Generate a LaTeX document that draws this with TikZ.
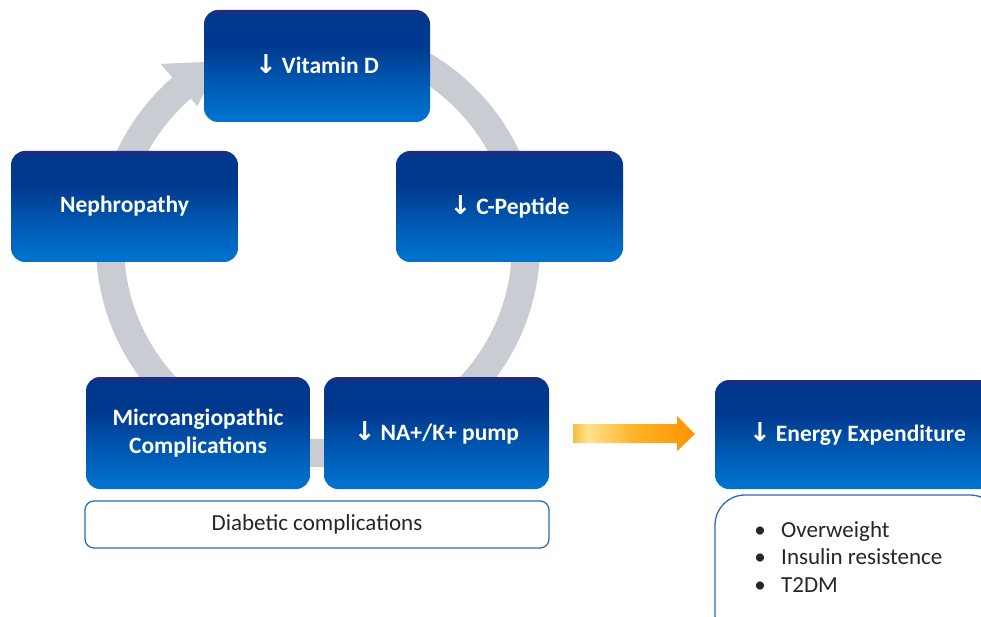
\documentclass[tikz,border=0pt]{standalone}
\usepackage{fontspec}
\setmainfont{Carlito}
\newfontfamily\arrowfont{DejaVu Sans}
\usetikzlibrary{calc}
\definecolor{ringgray}{RGB}{201,204,211}
\definecolor{boxnavy}{RGB}{36,44,124}
\definecolor{boxtop}{RGB}{0,56,142}
\definecolor{boxmid}{RGB}{0,84,172}
\definecolor{boxbot}{RGB}{0,114,206}
\definecolor{lineblue}{RGB}{46,106,182}
\definecolor{gold}{RGB}{246,190,62}
\definecolor{paley}{RGB}{255,226,140}
\definecolor{orngA}{RGB}{255,178,40}
\definecolor{orngB}{RGB}{255,146,0}
\pgfdeclareverticalshading{boxshade}{100bp}{color(0bp)=(boxbot); color(27bp)=(boxbot); color(45bp)=(boxmid); color(60bp)=(boxtop); color(72bp)=(boxtop); color(75bp)=(boxnavy); color(100bp)=(boxnavy)}
\pgfdeclarehorizontalshading{arrowshade}{100bp}{color(0bp)=(gold); color(25bp)=(gold); color(31bp)=(paley); color(50bp)=(orngA); color(75bp)=(orngB); color(100bp)=(orngB)}
\newcommand{\dnarr}{{\arrowfont\fontsize{26}{26}\selectfont ↓}\hspace{5pt}}
\tikzset{
  bluebox/.style={rounded corners=14pt, shading=boxshade, text=white, align=center,
    font=\fontsize{23.5}{28}\selectfont\bfseries, inner sep=0pt},
  outlinebox/.style={draw=lineblue, line width=1.3pt, fill=white, inner sep=0pt},
  bultext/.style={anchor=base west, font=\fontsize{23}{28}\selectfont, text=black!85, inner sep=0pt},
  buldot/.style={anchor=base, font=\fontsize{23}{28}\selectfont, text=black!85, inner sep=0pt}
}
\begin{document}
\begin{tikzpicture}[x=1pt,y=1pt]
\useasboundingbox (0,0) rectangle (981,-617);
\clip (0,0) rectangle (981,-617);
% cycle ring
\coordinate (ctr) at (318,-245);
\draw[ringgray, line width=28pt] ($(ctr)+(90:208pt)$) arc[start angle=90, end angle=-229, radius=208pt];
\fill[ringgray] ($(ctr)+(131:240pt)$) -- ($(ctr)+(118:208pt)$) -- ($(ctr)+(131:184pt)$) -- cycle;
% blue boxes
\node[bluebox, minimum width=226pt, minimum height=112pt] (vit) at (317,-66) {\raisebox{3pt}{\dnarr Vitamin D}};
\node[bluebox, minimum width=227pt, minimum height=111pt] (neph) at (124.5,-206.5) {Nephropathy};
\node[bluebox, minimum width=227pt, minimum height=111pt] (cpep) at (509.5,-206.5) {\dnarr C-Peptide};
\node[bluebox, minimum width=224pt, minimum height=112pt] (micro) at (198,-433) {Microangiopathic\\Complications};
\node[bluebox, minimum width=225pt, minimum height=112pt] (pump) at (436.5,-433) {\dnarr NA+/K+ pump};
\node[bluebox, minimum width=285pt, minimum height=109pt] (energy) at (857.5,-434.5) {\dnarr Energy Expenditure};
% outline boxes
\node[outlinebox, rounded corners=9pt, minimum width=464pt, minimum height=47pt,
  font=\fontsize{23}{28}\selectfont, text=black!85] (diab) at (317,-524.5) {Diabetic complications};
\node[outlinebox, rounded corners=30pt, minimum width=285pt, minimum height=150pt] (bulbox) at (857.5,-570) {};
\node[buldot] (d1) at (760,-537) {•};
\node[buldot] (d2) at (760,-564.5) {•};
\node[buldot] (d3) at (760,-592) {•};
\node[bultext] (b1) at (781,-537) {Overweight};
\node[bultext] (b2) at (781,-564.5) {Insulin resistence};
\node[bultext] (b3) at (781,-592) {T2DM};
% orange block arrow
\path[shading=arrowshade] ($(pump.east)+(24,9)$) -- ++(104,0) -- ++(0,8) -- ($(energy.west)+(-20,0.5)$)
  -- ($(pump.east)+(128,-18)$) -- ++(0,8) -- ++(-104,0) -- cycle;
\end{tikzpicture}
\end{document}
